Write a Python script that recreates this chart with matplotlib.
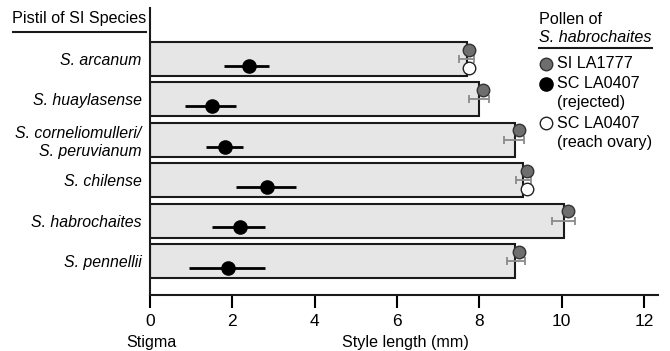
import matplotlib
matplotlib.use("Agg")
import matplotlib.pyplot as plt
from matplotlib.lines import Line2D

plt.rcParams['font.family'] = ['Liberation Sans', 'DejaVu Sans']

species = ["S. arcanum", "S. huaylasense", "S. corneliomulleri/\nS. peruvianum",
           "S. chilense", "S. habrochaites", "S. pennellii"]
style_length = [7.70, 8.00, 8.87, 9.06, 10.06, 8.87]

# SI LA1777 pollen (gray)
si_mean = [7.75, 8.09, 8.96, 9.15, 10.15, 8.96]
si_low = [7.50, 7.75, 8.60, 8.90, 9.77, 8.67]
si_high = [7.87, 8.24, 9.08, 9.25, 10.32, 9.10]

# SC LA0407 rejected (black)
sc_mean = [2.40, 1.50, 1.82, 2.85, 2.18, 1.90]
sc_low = [1.80, 0.85, 1.35, 2.10, 1.50, 0.95]
sc_high = [2.90, 2.10, 2.25, 3.55, 2.80, 2.80]

# SC LA0407 reach ovary (white) – only some species
ovary_species = ["S. arcanum", "S. chilense"]
ovary_mean = [7.75, 9.15]

xticks = [0, 2, 4, 6, 8, 10, 12]

FS = 11.6

fig = plt.figure(figsize=(6.7, 3.51), dpi=100)
ax = fig.add_axes([150/670, 1-295/351, 508/670, (295-8)/351])

ypos = list(range(len(species)))
ax.barh(ypos, style_length, height=0.84, left=0, color='#e6e6e6',
        edgecolor='#1a1a1a', linewidth=1.5, zorder=1)

# gray SI dots and error bars
for i in ypos:
    ax.errorbar(si_mean[i], i, xerr=[[si_mean[i]-si_low[i]], [si_high[i]-si_mean[i]]],
                fmt='none', ecolor='#8a8a8a', elinewidth=1.3, capsize=3, capthick=1.3, zorder=3)
ax.plot(si_mean, [i - 0.23 for i in ypos], 'o', ms=9, mfc='#6e6e6e', mec='#333333',
        mew=1.0, zorder=4, linestyle='none')

# black SC dots
for i in ypos:
    ax.errorbar(sc_mean[i], i + 0.17, xerr=[[sc_mean[i]-sc_low[i]], [sc_high[i]-sc_mean[i]]],
                fmt='o', color='black', ms=9.5, elinewidth=2.0, capsize=0, zorder=4)

# white dots
for sp, m in zip(ovary_species, ovary_mean):
    i = species.index(sp)
    ax.plot(m, i + 0.22, 'o', ms=9, mfc='white', mec='#222222', mew=1.0, zorder=4)

ax.set_xlim(0, 12.34)
ax.set_ylim(5.84, -1.26)
ax.set_xticks(xticks)
ax.set_xticklabels([str(t) for t in xticks], fontsize=12.5)
ax.set_yticks(ypos)
ax.set_yticklabels(species, fontsize=11.4, style='italic', ha='right')
ax.tick_params(axis='y', length=0, pad=6)
ax.tick_params(axis='x', length=9.5, width=1.5, direction='out', pad=4)
for s in ['top', 'right']:
    ax.spines[s].set_visible(False)
for s in ['left', 'bottom']:
    ax.spines[s].set_linewidth(1.5)
    ax.spines[s].set_color('#1a1a1a')

# axis labels
fig.text(151/670, 1-342/351, "Stigma", ha='center', va='center', fontsize=FS)
fig.text(405/670, 1-342/351, "Style length (mm)", ha='center', va='center', fontsize=FS)

# header
fig.text(146/670, 1-19/351, "Pistil of SI Species", ha='right', va='center', fontsize=FS)
fig.add_artist(Line2D([13/670, 146/670], [1-32/351, 1-32/351], color='#1a1a1a', lw=1.5,
                      transform=fig.transFigure))

# legend
lx = 539/670
fig.text(lx, 1-19/351, "Pollen of", ha='left', va='center', fontsize=FS)
fig.text(lx, 1-38/351, "S. habrochaites", ha='left', va='center', fontsize=FS, style='italic')
fig.add_artist(Line2D([lx, 652/670], [1-48/351, 1-48/351], color='#1a1a1a', lw=1.5,
                      transform=fig.transFigure))
mx = 546/670
tx = 557/670
fig.add_artist(Line2D([mx], [1-64/351], marker='o', ms=9, mfc='#6e6e6e', mec='#333333',
                      mew=1.0, linestyle='none', transform=fig.transFigure))
fig.text(tx, 1-64/351, "SI LA1777", ha='left', va='center', fontsize=FS)
fig.add_artist(Line2D([mx], [1-84/351], marker='o', ms=9.5, mfc='black', mec='black',
                      linestyle='none', transform=fig.transFigure))
fig.text(tx, 1-84/351, "SC LA0407", ha='left', va='center', fontsize=FS)
fig.text(tx, 1-102/351, "(rejected)", ha='left', va='center', fontsize=FS)
fig.add_artist(Line2D([mx], [1-123/351], marker='o', ms=9, mfc='white', mec='#222222',
                      mew=1.0, linestyle='none', transform=fig.transFigure))
fig.text(tx, 1-123/351, "SC LA0407", ha='left', va='center', fontsize=FS)
fig.text(tx, 1-142/351, "(reach ovary)", ha='left', va='center', fontsize=FS)

fig.savefig("out.png", dpi=100)
